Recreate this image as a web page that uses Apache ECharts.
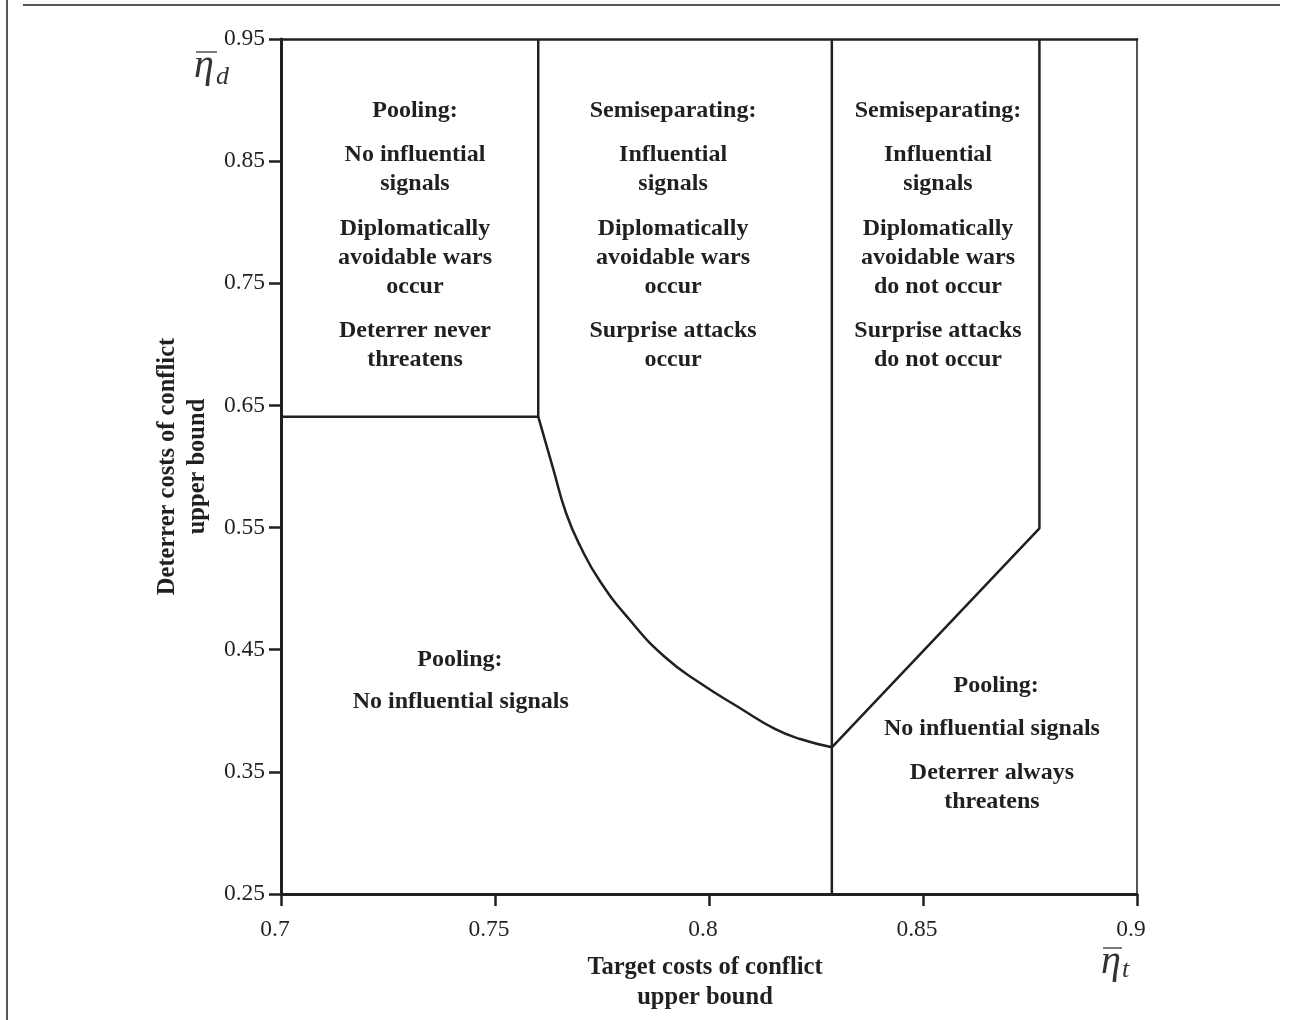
<!DOCTYPE html>
<html>
<head>
<meta charset="utf-8">
<script src="https://cdn.jsdelivr.net/npm/echarts@6/dist/echarts.min.js"></script>
<style>
html,body{margin:0;padding:0;background:#fff;}
#chart{width:1292px;height:1020px;}
</style>
</head>
<body>
<div id="chart"></div>
<script>
// ---- data ----
const xTicks = [0.7, 0.75, 0.8, 0.85, 0.9];
const yTicks = [0.25, 0.35, 0.45, 0.55, 0.65, 0.75, 0.85, 0.95];
const xName = 'Target costs of conflict\nupper bound';
const yName = 'Deterrer costs of conflict\nupper bound';

// boundary of top-left pooling region (horizontal then vertical up)
const poolingTopLeft = [[0.7, 0.6408], [0.7601, 0.6408], [0.7601, 0.95]];
// curved boundary between lower pooling and semiseparating
const curveX = [0.7601, 0.7636, 0.7666, 0.7699, 0.7745, 0.7815, 0.7897, 0.7979, 0.8072, 0.8154, 0.8213, 0.8287];
const curveY = [0.6408, 0.5980, 0.5619, 0.5349, 0.5063, 0.4743, 0.4440, 0.4227, 0.4023, 0.3851, 0.3769, 0.3701];
// vertical divider
const divider = [[0.8287, 0.95], [0.8287, 0.25]];
// diagonal + vertical boundary on the right
const rightBoundary = [[0.8287, 0.3701], [0.8772, 0.5494], [0.8772, 0.95]];

// region annotations: [x, y, text]
const regionLabels = [
  [0.7313, 0.8911, 'Pooling:'],
  [0.7313, 0.8432, 'No influential\nsignals'],
  [0.7313, 0.7707, 'Diplomatically\navoidable wars\noccur'],
  [0.7313, 0.6991, 'Deterrer never\nthreatens'],
  [0.7916, 0.8911, 'Semiseparating:'],
  [0.7916, 0.8432, 'Influential\nsignals'],
  [0.7916, 0.7707, 'Diplomatically\navoidable wars\noccur'],
  [0.7916, 0.6991, 'Surprise attacks\noccur'],
  [0.8535, 0.8911, 'Semiseparating:'],
  [0.8535, 0.8432, 'Influential\nsignals'],
  [0.8535, 0.7707, 'Diplomatically\navoidable wars\ndo not occur'],
  [0.8535, 0.6991, 'Surprise attacks\ndo not occur'],
  [0.7418, 0.4416, 'Pooling:'],
  [0.7420, 0.4072, 'No influential signals'],
  [0.8671, 0.4203, 'Pooling:'],
  [0.8661, 0.3851, 'No influential signals'],
  [0.8661, 0.3372, 'Deterrer always\nthreatens']
];

// ---- chart ----
const ink = '#231f20';
const serif = '"Liberation Serif", "DejaVu Serif", serif';
const chart = echarts.init(document.getElementById('chart'));

const lineStyle = {color: ink, width: 2.5};
const curve = curveX.map((x, i) => [x, curveY[i]]);

function fmt(v, list) {
  let best = list[0];
  list.forEach(t => { if (Math.abs(t - v) < Math.abs(best - v)) best = t; });
  return String(best);
}

chart.setOption({
  animation: false,
  backgroundColor: '#fff',
  grid: {left: 281, right: 155, top: 39, bottom: 126},
  xAxis: [{
    type: 'value', min: 0.7, max: 0.9, interval: 0.05,
    name: xName, nameLocation: 'middle', nameGap: 59,
    nameTextStyle: {fontFamily: serif, fontWeight: 'bold', fontSize: 24.5, color: ink, lineHeight: 30, padding: [0, 8, 0, 0]},
    axisLine: {show: true, lineStyle: {color: ink, width: 3}},
    axisTick: {show: true, inside: false, length: 12, lineStyle: {color: ink, width: 2.5}},
    axisLabel: {fontFamily: serif, fontSize: 23.5, color: ink, margin: 24, padding: [0, 12, 0, 0],
      formatter: v => fmt(v, xTicks)},
    splitLine: {show: false}
  }, {
    type: 'value', min: 0.7, max: 0.9, position: 'top',
    axisLine: {show: true, lineStyle: {color: ink, width: 2.5}},
    axisTick: {show: false}, axisLabel: {show: false}, splitLine: {show: false}
  }],
  yAxis: [{
    type: 'value', min: 0.25, max: 0.95, interval: 0.1,
    name: yName, nameLocation: 'middle', nameGap: 62, nameRotate: 90,
    nameTextStyle: {fontFamily: serif, fontWeight: 'bold', fontSize: 24.5, color: ink, lineHeight: 30},
    axisLine: {show: true, lineStyle: {color: ink, width: 3}},
    axisTick: {show: true, inside: false, length: 12, lineStyle: {color: ink, width: 2.5}},
    axisLabel: {fontFamily: serif, fontSize: 23.5, color: ink, margin: 16,
      formatter: v => fmt(v, yTicks)},
    splitLine: {show: false}
  }, {
    type: 'value', min: 0.25, max: 0.95, position: 'right',
    axisLine: {show: true, lineStyle: {color: '#555', width: 2}},
    axisTick: {show: false}, axisLabel: {show: false}, splitLine: {show: false}
  }],
  series: [
    {type: 'line', data: poolingTopLeft, symbol: 'none', lineStyle: lineStyle, silent: true},
    {type: 'line', data: curve, symbol: 'none', smooth: 0.5, lineStyle: lineStyle, silent: true},
    {type: 'line', data: divider, symbol: 'none', lineStyle: lineStyle, silent: true},
    {type: 'line', data: rightBoundary, symbol: 'none', lineStyle: lineStyle, silent: true},
    {
      type: 'scatter', symbolSize: 0, silent: true,
      itemStyle: {color: ink, opacity: 1},
      data: regionLabels.map(r => ({value: [r[0], r[1]], name: r[2]})),
      label: {
        show: true, position: 'inside', formatter: '{b}',
        fontFamily: serif, fontWeight: 'bold', fontSize: 24, lineHeight: 29,
        color: ink, opacity: 1, textBorderWidth: 0, textBorderColor: 'transparent',
        align: 'center', verticalAlign: 'middle'
      }
    }
  ],
  graphic: [
    // page frame lines
    {type: 'line', shape: {x1: 7, y1: 0, x2: 7, y2: 1020}, style: {stroke: ink, lineWidth: 1.5}, silent: true},
    {type: 'line', shape: {x1: 23, y1: 5, x2: 1280, y2: 5}, style: {stroke: ink, lineWidth: 1.5}, silent: true},
    // eta_d symbol
    {type: 'line', shape: {x1: 196, y1: 52, x2: 217, y2: 52}, style: {stroke: '#333', lineWidth: 1.3}, silent: true},
    {type: 'text', left: 194, top: 46, style: {text: 'η', font: 'italic 40px "Liberation Serif"', fill: '#333'}, silent: true},
    {type: 'text', left: 216, top: 64, style: {text: 'd', font: 'italic 26px "Liberation Serif"', fill: '#333'}, silent: true},
    // eta_t symbol
    {type: 'line', shape: {x1: 1103, y1: 948, x2: 1122, y2: 948}, style: {stroke: '#333', lineWidth: 1.3}, silent: true},
    {type: 'text', left: 1101, top: 942, style: {text: 'η', font: 'italic 40px "Liberation Serif"', fill: '#333'}, silent: true},
    {type: 'text', left: 1122, top: 957, style: {text: 't', font: 'italic 26px "Liberation Serif"', fill: '#333'}, silent: true}
  ]
});
</script>
</body>
</html>
